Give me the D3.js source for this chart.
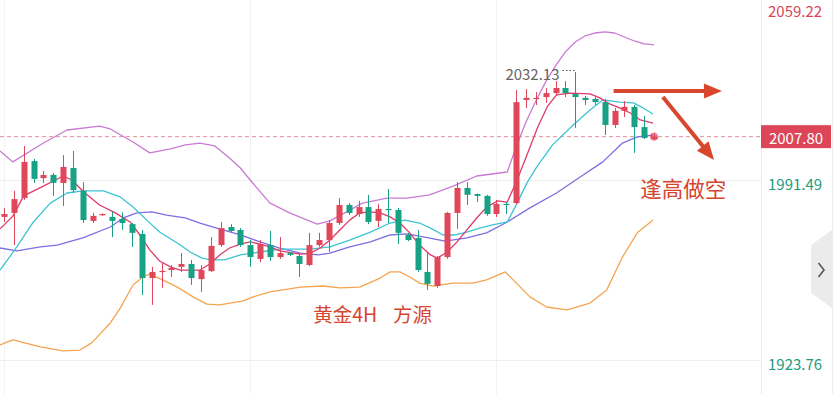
<!DOCTYPE html>
<html>
<head>
<meta charset="utf-8">
<script src="https://cdn.jsdelivr.net/npm/d3@7/dist/d3.min.js"></script>
<style>
html,body{margin:0;padding:0;background:#fff;}
svg{display:block;}
</style>
</head>
<body>
<svg id="chart" width="835" height="394"></svg>
<script>
// ---------- DATA ----------
const opens  = [1977.6,1979.1,1984.7,1998.6,1992.2,1993.4,1990.4,1996.0,1987.4,1976.1,1978.3,1977.6,1976.8,1974.9,1971.2,1954.6,1956.9,1957.6,1958.8,1959.9,1954.2,1957.2,1967.0,1973.8,1972.7,1967.0,1961.8,1967.0,1962.5,1964.0,1962.9,1959.5,1967.0,1968.9,1975.3,1982.1,1978.7,1981.3,1976.1,1980.6,1980.2,1970.8,1969.7,1956.9,1951.6,1962.5,1979.1,1988.5,1986.2,1985.5,1978.7,1982.5,1982.8,2021.6,2022.0,2022.7,2024.2,2026.1,2023.9,2022.4,2022.0,2020.8,2012.2,2017.5,2019.0,2011.4,2006.9];
const highs  = [1981.0,1987.4,2004.3,1999.4,1994.9,1994.1,2000.9,2002.4,1990.7,1979.1,1978.9,1979.5,1979.3,1975.3,1972.7,1958.8,1960.6,1959.5,1964.0,1961.4,1959.5,1970.0,1975.7,1974.9,1973.4,1968.9,1968.9,1972.3,1970.0,1964.4,1963.6,1971.6,1971.6,1976.4,1984.7,1982.8,1983.6,1985.9,1982.5,1988.1,1981.0,1971.6,1972.7,1964.4,1962.9,1979.5,1990.7,1990.7,1986.4,1985.9,1984.0,1983.2,2025.4,2025.7,2024.6,2026.1,2028.7,2028.7,2032.13,2023.1,2022.7,2022.0,2018.6,2021.2,2019.7,2015.6,2009.0];
const lows   = [1975.7,1967.0,1984.0,1990.4,1990.4,1985.5,1981.7,1986.6,1975.3,1975.3,1978.0,1970.0,1972.7,1966.3,1948.2,1944.5,1950.9,1955.0,1956.9,1952.0,1949.4,1956.9,1966.3,1971.9,1966.3,1958.8,1960.6,1961.0,1961.8,1962.9,1955.0,1959.1,1966.3,1964.4,1974.6,1978.3,1977.6,1974.9,1973.8,1975.3,1967.4,1968.5,1956.9,1950.1,1950.9,1961.8,1973.1,1982.1,1983.2,1978.0,1977.6,1978.7,1982.4,2018.6,2019.7,2020.5,2023.1,2022.7,2011.1,2019.7,2019.7,2008.4,2011.1,2015.2,2001.7,2006.9,2006.5];
const closes = [1978.7,1984.3,1998.3,1991.9,1993.4,1990.4,1996.4,1987.7,1976.4,1978.0,1978.7,1976.1,1975.3,1971.6,1954.6,1956.9,1957.3,1958.4,1959.9,1954.6,1957.6,1966.7,1973.4,1972.3,1967.0,1962.5,1967.4,1962.5,1964.0,1963.3,1959.9,1967.0,1968.9,1975.3,1982.1,1979.1,1981.3,1975.7,1980.6,1980.2,1971.6,1968.9,1957.6,1952.4,1962.5,1979.1,1988.5,1985.9,1985.5,1978.7,1982.5,1982.1,2020.8,2022.4,2022.4,2024.2,2026.1,2024.2,2022.7,2021.6,2020.8,2012.2,2017.5,2019.0,2011.4,2007.3,2007.8];

// indicator lines: [candle index, price]
const upperBand = [[-0.4,2002.4],[0.9,1998.3],[4.0,2005.4],[6.4,2010.3],[9.7,2011.8],[10.8,2010.7],[13.1,2005.8],[14.8,2001.7],[16.9,2003.2],[18.4,2004.7],[19.9,2005.4],[21.4,2004.3],[22.9,1999.8],[24.0,1996.0],[25.0,1991.5],[27.0,1982.8],[29.0,1979.1],[31.8,1974.9],[33.1,1976.1],[34.6,1979.1],[36.4,1982.8],[38.9,1984.7],[40.9,1984.7],[43.2,1985.9],[45.6,1989.2],[48.0,1993.0],[51.1,1994.5],[52.0,2003.9],[53.0,2013.3],[54.0,2021.2],[55.0,2028.4],[56.0,2034.4],[57.0,2039.7],[58.0,2043.4],[59.0,2045.7],[60.0,2046.8],[61.0,2047.2],[62.0,2046.8],[63.0,2045.3],[64.0,2043.8],[65.0,2042.7],[66.0,2042.3]];
const lowerBand = [[-0.4,1929.4],[0.9,1931.3],[3.7,1928.7],[6.0,1927.2],[7.7,1927.5],[8.9,1930.2],[10.8,1937.7],[11.8,1943.3],[13.1,1952.0],[14.1,1955.0],[14.8,1956.1],[16.1,1953.9],[17.6,1951.2],[19.2,1947.5],[20.6,1944.8],[21.9,1944.5],[24.3,1946.0],[25.3,1947.5],[27.0,1949.4],[30.1,1951.2],[32.4,1951.6],[34.1,1950.9],[36.1,1951.2],[38.2,1954.6],[39.2,1956.9],[40.2,1956.9],[41.2,1955.0],[42.2,1952.7],[43.6,1951.6],[45.6,1952.7],[47.6,1952.7],[49.0,1953.9],[50.9,1956.9],[51.7,1953.9],[53.4,1947.5],[55.1,1943.7],[57.2,1942.6],[59.5,1945.2],[61.2,1950.1],[62.8,1962.5],[64.3,1971.6],[65.9,1976.4]];
const ma5 = [[-0.4,1973.1],[0.9,1977.9],[2.0,1985.5],[4.0,1989.2],[6.0,1993.0],[6.9,1991.5],[8.1,1987.0],[9.7,1982.1],[11.3,1979.1],[12.8,1975.7],[13.8,1970.8],[14.8,1965.2],[15.8,1961.0],[16.9,1958.8],[17.9,1957.6],[19.9,1957.6],[20.9,1959.9],[21.9,1963.3],[22.9,1965.9],[24.0,1967.4],[25.0,1968.2],[26.0,1967.4],[27.0,1966.3],[28.0,1964.8],[30.1,1963.6],[31.1,1964.0],[32.1,1965.9],[33.1,1968.9],[34.1,1972.7],[35.1,1976.4],[36.1,1979.1],[37.2,1979.5],[38.2,1979.1],[39.2,1977.6],[40.2,1975.3],[41.2,1971.6],[42.2,1967.0],[43.3,1963.3],[44.0,1962.1],[45.0,1964.4],[46.0,1968.2],[47.0,1972.7],[48.0,1977.2],[49.0,1981.3],[50.1,1983.6],[51.1,1983.2],[52.1,1991.5],[53.1,2000.9],[54.2,2011.4],[55.2,2019.3],[56.1,2023.5],[57.5,2024.2],[59.5,2023.9],[60.5,2022.4],[61.5,2020.1],[62.5,2018.6],[63.6,2016.7],[64.6,2014.1],[65.9,2012.9]];
const ma10 = [[-0.4,1957.6],[1.3,1966.3],[2.9,1975.3],[4.7,1982.8],[6.4,1986.6],[8.0,1987.4],[10.1,1987.4],[11.8,1985.1],[13.1,1981.3],[14.5,1976.4],[15.8,1971.9],[17.6,1967.8],[18.9,1964.4],[20.1,1962.1],[21.1,1961.4],[22.4,1961.4],[24.0,1963.3],[26.0,1964.4],[28.0,1965.5],[31.1,1965.5],[33.1,1966.3],[35.1,1968.9],[37.2,1971.9],[39.2,1975.3],[40.7,1976.4],[42.2,1975.3],[43.3,1973.4],[44.6,1970.8],[45.8,1970.8],[47.0,1971.9],[48.3,1973.4],[49.6,1974.6],[51.1,1975.7],[52.1,1982.8],[53.1,1990.4],[54.1,1996.4],[55.7,2004.7],[57.8,2012.2],[59.5,2017.8],[60.8,2021.6],[62.5,2020.8],[63.9,2020.5],[64.9,2018.6],[65.9,2016.3]];
const ma30 = [[-0.4,1965.9],[1.3,1964.8],[3.7,1966.3],[5.4,1967.0],[8.0,1969.7],[10.8,1973.8],[12.1,1977.2],[13.5,1979.1],[15.0,1979.5],[16.5,1978.3],[18.4,1977.2],[19.9,1975.3],[21.6,1973.4],[24.0,1970.8],[26.0,1968.2],[28.0,1965.9],[30.1,1964.0],[31.9,1963.3],[33.1,1964.0],[35.1,1966.3],[37.2,1968.2],[39.2,1970.8],[40.9,1971.2],[42.7,1970.0],[44.8,1968.5],[47.0,1969.7],[49.0,1971.6],[51.1,1975.7],[53.4,1981.0],[56.1,1986.6],[58.5,1992.6],[60.8,1998.3],[62.8,2005.4],[64.3,2007.7],[65.9,2008.4]];

const axisTicks = [2059.22, 1991.49, 1923.76];
const axisTickColors = ["#d9465a", "#1c9c7c", "#1c9c7c"];
const lastPrice = 2007.80;
const highLabel = "2032.13";
const highIndex = 58;
const gridIdx = [0, 25, 50];
const gridPrices = [1991.49, 1923.76];
const noteText = "逢高做空";
const titleParts = ["黄金4H", "方源"];

// annotation anchors in data coords: [index, price]
const arrowFlat = [[61.9, 2025.0], [72.9, 2025.0]];
const arrowDown = [[66.9, 2022.7], [72.1, 1999.0]];
const noteAnchor = [64.6, 1985.1];
const titleAnchors = [[31.4, 1938.1], [39.5, 1938.1]];

// ---------- CHART ----------
const W = 835, H = 394, plotRight = 761;
const svg = d3.select("#chart");
const font = "'Noto Sans CJK SC','Noto Sans',sans-serif";
const UP = "#e0475b", DOWN = "#17a285";

const x = d3.scaleLinear().domain([0, 66]).range([4, 654]);
const y = d3.scaleLinear().domain([1923.76, 2059.22]).range([360, 0]);

const n = opens.length;
const candles = d3.range(n).map(i => ({i, o: opens[i], h: highs[i], l: lows[i], c: closes[i]}));

svg.append("defs").append("clipPath").attr("id", "plot")
  .append("rect").attr("x", 0).attr("y", 0).attr("width", plotRight).attr("height", H);

// grid
const grid = svg.append("g");
grid.selectAll("line.h").data(gridPrices).join("line")
  .attr("x1", 0).attr("x2", plotRight).attr("y1", d => y(d) + 0.5).attr("y2", d => y(d) + 0.5)
  .attr("stroke", "#efefef").attr("stroke-width", 1);
grid.selectAll("line.v").data(gridIdx).join("line")
  .attr("x1", d => Math.round(x(d)) + 0.5).attr("x2", d => Math.round(x(d)) + 0.5)
  .attr("y1", 0).attr("y2", H).attr("stroke", "#f2f2f2").attr("stroke-width", 1);

// right panel
svg.append("line").attr("x1", plotRight + 0.5).attr("x2", plotRight + 0.5).attr("y1", 0).attr("y2", H)
  .attr("stroke", "#ececec");
svg.append("line").attr("x1", 832.5).attr("x2", 832.5).attr("y1", 0).attr("y2", H)
  .attr("stroke", "#eeeeee");

// current price dashed line
svg.append("line").attr("x1", 0).attr("x2", plotRight).attr("y1", y(lastPrice)).attr("y2", y(lastPrice))
  .attr("stroke", "#e3909b").attr("stroke-width", 1).attr("stroke-dasharray", "4,3");

const plot = svg.append("g").attr("clip-path", "url(#plot)");

// indicator lines
const line = d3.line().x(d => x(d[0])).y(d => y(d[1]));
const lines = [
  [lowerBand, "#f4a451"],
  [upperBand, "#c97bd3"],
  [ma30, "#7d6ee3"],
  [ma10, "#3cc4d3"],
  [ma5, "#df3a6a"]
];
lines.forEach(([d, col]) => {
  plot.append("path").datum(d).attr("d", line).attr("fill", "none")
    .attr("stroke", col).attr("stroke-width", 1.3).attr("stroke-linejoin", "round");
});

// candles
const bw = 6;
const cg = plot.selectAll("g.c").data(candles).join("g")
  .attr("fill", d => d.c >= d.o ? UP : DOWN).attr("stroke", d => d.c >= d.o ? UP : DOWN);
cg.append("line")
  .attr("x1", d => Math.round(x(d.i)) + 0.5).attr("x2", d => Math.round(x(d.i)) + 0.5)
  .attr("y1", d => y(d.h)).attr("y2", d => y(d.l)).attr("stroke-width", 1);
cg.append("rect")
  .attr("x", d => Math.round(x(d.i)) + 0.5 - bw / 2)
  .attr("width", bw)
  .attr("y", d => y(Math.max(d.o, d.c)))
  .attr("height", d => Math.max(1.2, Math.abs(y(d.o) - y(d.c))))
  .attr("stroke", "none");

// pulsing last-price dot
plot.append("circle").attr("cx", x(n - 1)).attr("cy", y(lastPrice)).attr("r", 4.2)
  .attr("fill", UP).attr("opacity", 0.65);

// high label
const hx = Math.round(x(highIndex)) + 0.5, hy = y(highs[highIndex]);
svg.append("line").attr("x1", hx - 13).attr("x2", hx).attr("y1", hy - 1.5).attr("y2", hy - 1.5)
  .attr("stroke", "#555").attr("stroke-width", 1).attr("stroke-dasharray", "1.5,2");
svg.append("text").attr("x", hx - 16).attr("y", hy + 8.5).attr("text-anchor", "end")
  .attr("font-family", font).attr("font-size", 15).attr("fill", "#666").text(highLabel);

// axis labels
svg.selectAll("text.tick").data(axisTicks).join("text")
  .attr("x", 768).attr("y", d => Math.max(y(d) + 3, 10))
  .attr("dominant-baseline", "central")
  .attr("font-family", font).attr("font-size", 15)
  .attr("fill", (d, i) => axisTickColors[i]).text(d => d.toFixed(2));

// last price tag
const ly = y(lastPrice);
svg.append("rect").attr("x", 761).attr("y", ly - 11.5).attr("width", 70).attr("height", 23)
  .attr("fill", "#dd4658");
svg.append("text").attr("x", 796).attr("y", ly + 0.5).attr("text-anchor", "middle")
  .attr("dominant-baseline", "central").attr("font-family", font).attr("font-size", 15)
  .attr("fill", "#fff").text(lastPrice.toFixed(2));

// side tab with chevron
svg.append("path").attr("d", "M811,245 L832,230 L832,308 L811,293 Z").attr("fill", "#ebebeb");
svg.append("path").attr("d", "M818.5,263 L824,270 L818.5,277").attr("fill", "none")
  .attr("stroke", "#555").attr("stroke-width", 1.6);

// arrows
const ARROW = "#d8472d";
function arrow(pts) {
  const x1 = x(pts[0][0]), y1 = y(pts[0][1]), x2 = x(pts[1][0]), y2 = y(pts[1][1]);
  const dx = x2 - x1, dy = y2 - y1, len = Math.hypot(dx, dy), ux = dx / len, uy = dy / len;
  const hl = 18, hw = 7.5;
  const bx = x2 - ux * hl, by = y2 - uy * hl;
  svg.append("line").attr("x1", x1).attr("y1", y1).attr("x2", bx + ux).attr("y2", by + uy)
    .attr("stroke", ARROW).attr("stroke-width", 4);
  svg.append("path").attr("d", `M${x2},${y2} L${bx - uy * hw},${by + ux * hw} L${bx + uy * hw},${by - ux * hw} Z`)
    .attr("fill", ARROW);
}
arrow(arrowFlat);
arrow(arrowDown);

// texts
svg.append("text").attr("x", x(noteAnchor[0])).attr("y", y(noteAnchor[1]))
  .attr("font-family", font).attr("font-size", 21.5).attr("fill", "#d6452f").text(noteText);
titleParts.forEach((t, i) => {
  svg.append("text").attr("x", x(titleAnchors[i][0])).attr("y", y(titleAnchors[i][1]))
    .attr("font-family", font).attr("font-size", 19.5).attr("fill", "#d6452f").text(t);
});
</script>
</body>
</html>
